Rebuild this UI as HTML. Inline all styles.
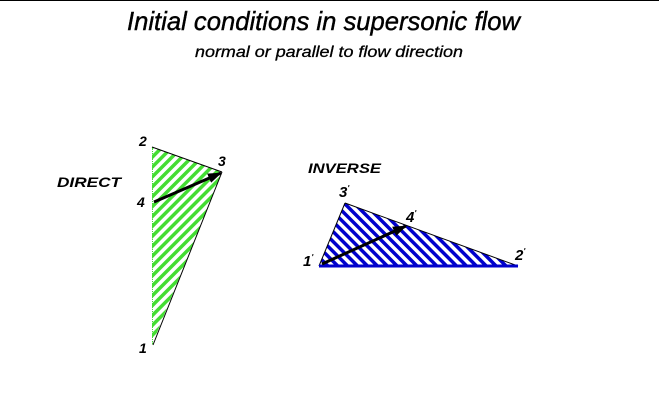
<!DOCTYPE html>
<html><head><style>body{margin:0;background:#fff}svg{display:block}</style></head><body>
<svg width="659" height="416" xmlns="http://www.w3.org/2000/svg" font-family="Liberation Sans, sans-serif" font-style="italic">
<defs>
<pattern id="g" patternUnits="userSpaceOnUse" width="7" height="7" patternTransform="rotate(45)">
<rect width="7" height="7" fill="#fff"/><rect width="3.5" height="7" fill="#44dd33"/></pattern>
<pattern id="b" patternUnits="userSpaceOnUse" width="7" height="7" patternTransform="rotate(-45)">
<rect width="7" height="7" fill="#fff"/><rect width="3.5" height="7" fill="#0000cc"/></pattern>
<marker id="a2" markerWidth="14" markerHeight="10" refX="13" refY="5" orient="auto" markerUnits="userSpaceOnUse"><path d="M0,0 L14,5 L0,10 z" fill="#000"/></marker>
</defs>
<line x1="0" y1="0.5" x2="659" y2="0.5" stroke="#000"/>
<text x="127" y="30" font-size="26" textLength="393" lengthAdjust="spacingAndGlyphs" stroke="#000" stroke-width="0.4">Initial conditions in supersonic flow</text>
<text x="195" y="57" font-size="16" textLength="268" lengthAdjust="spacingAndGlyphs" stroke="#000" stroke-width="0.3">normal or parallel to flow direction</text>

<polygon points="152,147 222,172 152,345" fill="url(#g)"/>
<line x1="152.5" y1="147" x2="152.5" y2="345" stroke="#44dd33" stroke-width="1" stroke-dasharray="1,1"/>
<line x1="152" y1="147" x2="222" y2="172" stroke="#000"/>
<line x1="222" y1="172" x2="153" y2="345" stroke="#000"/>
<line x1="154" y1="202" x2="221" y2="173" stroke="#000" stroke-width="3" marker-end="url(#a2)"/>
<g font-weight="bold">
<text x="57" y="187" font-size="14" textLength="64" lengthAdjust="spacingAndGlyphs">DIRECT</text>
<text x="139" y="146" font-size="14">2</text>
<text x="218" y="166" font-size="14">3</text>
<text x="137" y="207" font-size="14">4</text>
<text x="139" y="353" font-size="14">1</text>
</g>

<polygon points="319,266 345,203 518,266" fill="url(#b)"/>
<line x1="345" y1="203" x2="518" y2="266" stroke="#000"/>
<line x1="319" y1="266" x2="345" y2="203" stroke="#000"/>
<line x1="319" y1="266" x2="518" y2="266" stroke="#0000cc" stroke-width="3"/>
<line x1="322" y1="264" x2="406" y2="226" stroke="#000" stroke-width="3" marker-end="url(#a2)"/>
<g font-weight="bold">
<text x="308" y="173" font-size="14" textLength="73" lengthAdjust="spacingAndGlyphs">INVERSE</text>
<text x="339" y="197" font-size="15">3<tspan font-size="8" dy="-6">'</tspan></text>
<text x="406" y="222" font-size="15">4<tspan font-size="8" dy="-6">'</tspan></text>
<text x="303" y="266" font-size="15">1<tspan font-size="8" dy="-6">'</tspan></text>
<text x="515" y="260" font-size="15">2<tspan font-size="8" dy="-6">'</tspan></text>
</g>
</svg>
</body></html>
